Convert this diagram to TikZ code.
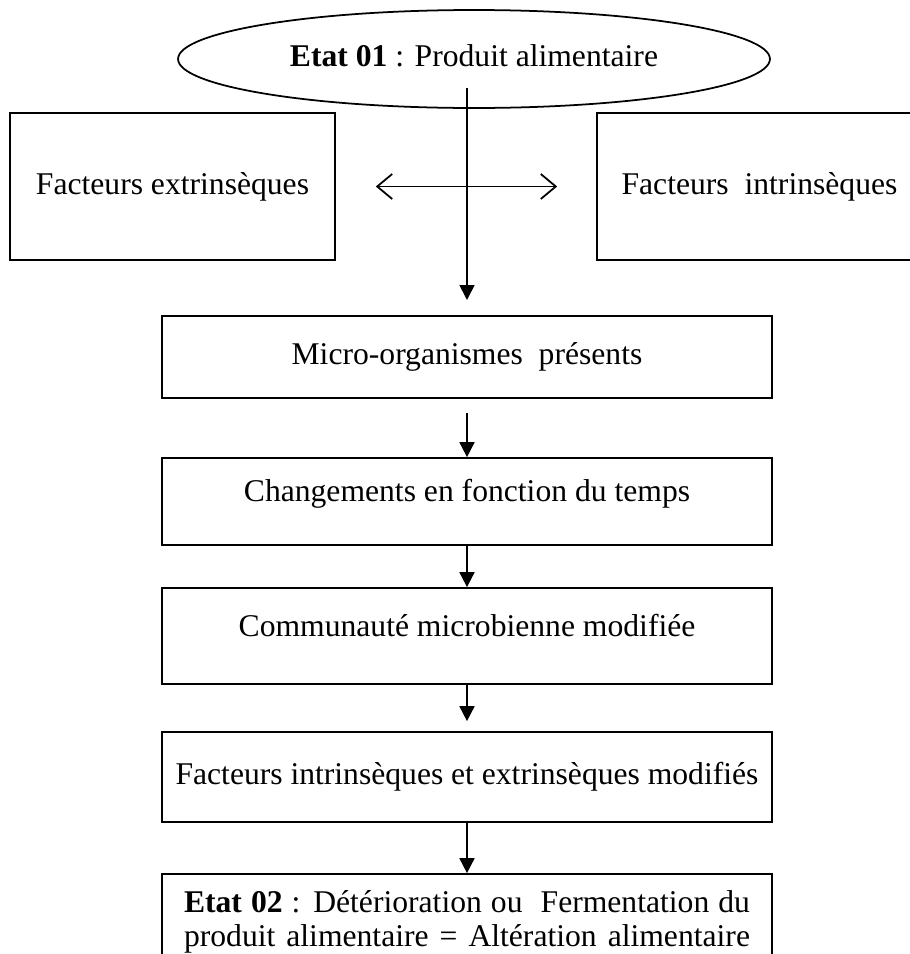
\documentclass[tikz,border=0pt]{standalone}
\usepackage{fontspec}
\setmainfont{Liberation Serif}
\usetikzlibrary{shapes.geometric,arrows.meta}

\tikzset{
  box/.style={draw, line width=1pt, inner sep=0pt, align=center, text height=0.45cm, text depth=0.15cm},
  raised/.style={text depth=0.45cm},
  arr/.style={line width=1pt, -{Triangle[width=0.3cm,length=0.3cm]}},
  dbl/.style={line width=1pt, {Straight Barb[length=0.3cm,width=0.5cm]}-{Straight Barb[length=0.3cm,width=0.5cm]}},
}

\begin{document}
\begin{tikzpicture}[x=0.02cm, y=-0.02cm, font=\fontsize{18}{22}\selectfont]
    \useasboundingbox (0,0) rectangle (910,954);
    \clip (0,0) rectangle (910,954);
    \node [box, ellipse, minimum width=11.84cm, minimum height=1.96cm] (etat) at (474,59) {\textbf{Etat 01} : Produit alimentaire};
    \node [box, minimum width=6.5cm, minimum height=2.94cm] (ext) at (172.5,186.5) {Facteurs extrinsèques};
    \node [box, minimum width=6.5cm, minimum height=2.94cm] (intr) at (759.5,186.5) {Facteurs\ \ intrinsèques};
    \coordinate (mtop) at (467,88);
    \coordinate (mbot) at (467,300);
    \draw [arr] (mtop) -- (mbot);
    \draw [dbl, shorten <=0.8cm, shorten >=0.78cm] (ext.east) -- (intr.west);
    \node [box, minimum width=12.2cm, minimum height=1.64cm] (micro) at (467,357) {Micro-organismes\ \ présents};
    \node [box, raised, minimum width=12.2cm, minimum height=1.74cm] (temps) at (467,501.5) {Changements en fonction du temps};
    \node [box, raised, minimum width=12.2cm, minimum height=1.92cm] (comm) at (467,636) {Communauté microbienne modifiée};
    \node [box, minimum width=12.2cm, minimum height=1.8cm] (modif) at (467,777) {\makebox[11.66cm][s]{Facteurs intrinsèques et extrinsèques modifiés}};
    \node [box, minimum width=12.2cm, minimum height=1.92cm, text height=, text depth=, font=\fontsize{18}{19}\selectfont] (alter) at (467,922)
      {\makebox[11.32cm][s]{\textbf{Etat 02} : Détérioration ou\ \ Fermentation du}\\
       \makebox[11.32cm][s]{produit alimentaire = Altération alimentaire}};
    \draw [arr, shorten <=0.28cm] (micro) -- (temps);
    \draw [arr] (temps) -- (comm);
    \draw [arr, shorten >=0.2cm] (comm) -- (modif);
    \draw [arr] (modif) -- (alter);
\end{tikzpicture}
\end{document}
